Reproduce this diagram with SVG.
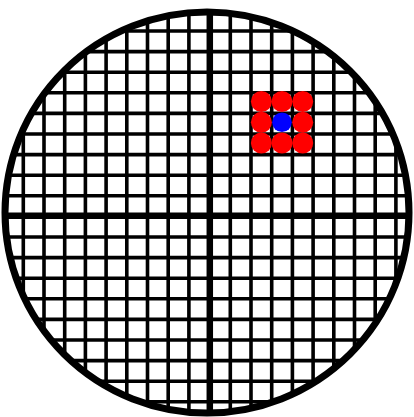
<svg xmlns="http://www.w3.org/2000/svg" width="414" height="417" viewBox="0 0 414 417">
  <defs>
    <clipPath id="disc">
      <ellipse cx="207" cy="212.5" rx="202" ry="200.5"/>
    </clipPath>
    <style>
      .thin { stroke: #000; stroke-width: 3.6; }
      .thick { stroke: #000; stroke-width: 6.5; }
      .rim { fill: none; stroke: #000; stroke-width: 7; }
      .red { fill: #ff0000; }
      .blue { fill: #0000ff; }
    </style>
  </defs>
  <rect width="414" height="417" fill="#fff"/>
  <g id="grid" clip-path="url(#disc)">
    <g id="verticals">
      <line class="thin" x1="23.3" y1="0" x2="23.3" y2="417"/>
      <line class="thin" x1="44" y1="0" x2="44" y2="417"/>
      <line class="thin" x1="64.7" y1="0" x2="64.7" y2="417"/>
      <line class="thin" x1="85.4" y1="0" x2="85.4" y2="417"/>
      <line class="thin" x1="106.1" y1="0" x2="106.1" y2="417"/>
      <line class="thin" x1="126.8" y1="0" x2="126.8" y2="417"/>
      <line class="thin" x1="147.5" y1="0" x2="147.5" y2="417"/>
      <line class="thin" x1="168.2" y1="0" x2="168.2" y2="417"/>
      <line class="thin" x1="188.9" y1="0" x2="188.9" y2="417"/>
      <line class="thin" x1="230.3" y1="0" x2="230.3" y2="417"/>
      <line class="thin" x1="251" y1="0" x2="251" y2="417"/>
      <line class="thin" x1="271.7" y1="0" x2="271.7" y2="417"/>
      <line class="thin" x1="292.4" y1="0" x2="292.4" y2="417"/>
      <line class="thin" x1="313.1" y1="0" x2="313.1" y2="417"/>
      <line class="thin" x1="333.8" y1="0" x2="333.8" y2="417"/>
      <line class="thin" x1="354.5" y1="0" x2="354.5" y2="417"/>
      <line class="thin" x1="375.2" y1="0" x2="375.2" y2="417"/>
      <line class="thin" x1="395.9" y1="0" x2="395.9" y2="417"/>
    </g>
    <g id="horizontals">
      <line class="thin" x1="0" y1="31" x2="414" y2="31"/>
      <line class="thin" x1="0" y1="51.6" x2="414" y2="51.6"/>
      <line class="thin" x1="0" y1="72.2" x2="414" y2="72.2"/>
      <line class="thin" x1="0" y1="92.8" x2="414" y2="92.8"/>
      <line class="thin" x1="0" y1="113.4" x2="414" y2="113.4"/>
      <line class="thin" x1="0" y1="134" x2="414" y2="134"/>
      <line class="thin" x1="0" y1="154.6" x2="414" y2="154.6"/>
      <line class="thin" x1="0" y1="175.2" x2="414" y2="175.2"/>
      <line class="thin" x1="0" y1="195.8" x2="414" y2="195.8"/>
      <line class="thin" x1="0" y1="237" x2="414" y2="237"/>
      <line class="thin" x1="0" y1="257.6" x2="414" y2="257.6"/>
      <line class="thin" x1="0" y1="278.2" x2="414" y2="278.2"/>
      <line class="thin" x1="0" y1="298.8" x2="414" y2="298.8"/>
      <line class="thin" x1="0" y1="319.4" x2="414" y2="319.4"/>
      <line class="thin" x1="0" y1="340" x2="414" y2="340"/>
      <line class="thin" x1="0" y1="360.6" x2="414" y2="360.6"/>
      <line class="thin" x1="0" y1="381.2" x2="414" y2="381.2"/>
      <line class="thin" x1="0" y1="401.8" x2="414" y2="401.8"/>
    </g>
    <g id="axes">
      <line class="thick" x1="209.8" y1="0" x2="209.8" y2="417"/>
      <line class="thick" x1="0" y1="215.8" x2="414" y2="215.8"/>
    </g>
  </g>
  <g id="rim">
    <ellipse class="rim" cx="207" cy="212.5" rx="202" ry="200.5"/>
  </g>
  <g id="dots">
    <circle class="red" cx="261.4" cy="101.5" r="10.5"/>
    <circle class="red" cx="282" cy="101.5" r="10.5"/>
    <circle class="red" cx="302.7" cy="101.5" r="10.5"/>
    <circle class="red" cx="261.4" cy="122.3" r="10.5"/>
    <circle class="red" cx="302.7" cy="122.3" r="10.5"/>
    <circle class="red" cx="261.4" cy="143" r="10.5"/>
    <circle class="red" cx="282" cy="143" r="10.5"/>
    <circle class="red" cx="302.7" cy="143" r="10.5"/>
    <circle class="blue" cx="282" cy="122.3" r="9.8"/>
  </g>
</svg>
